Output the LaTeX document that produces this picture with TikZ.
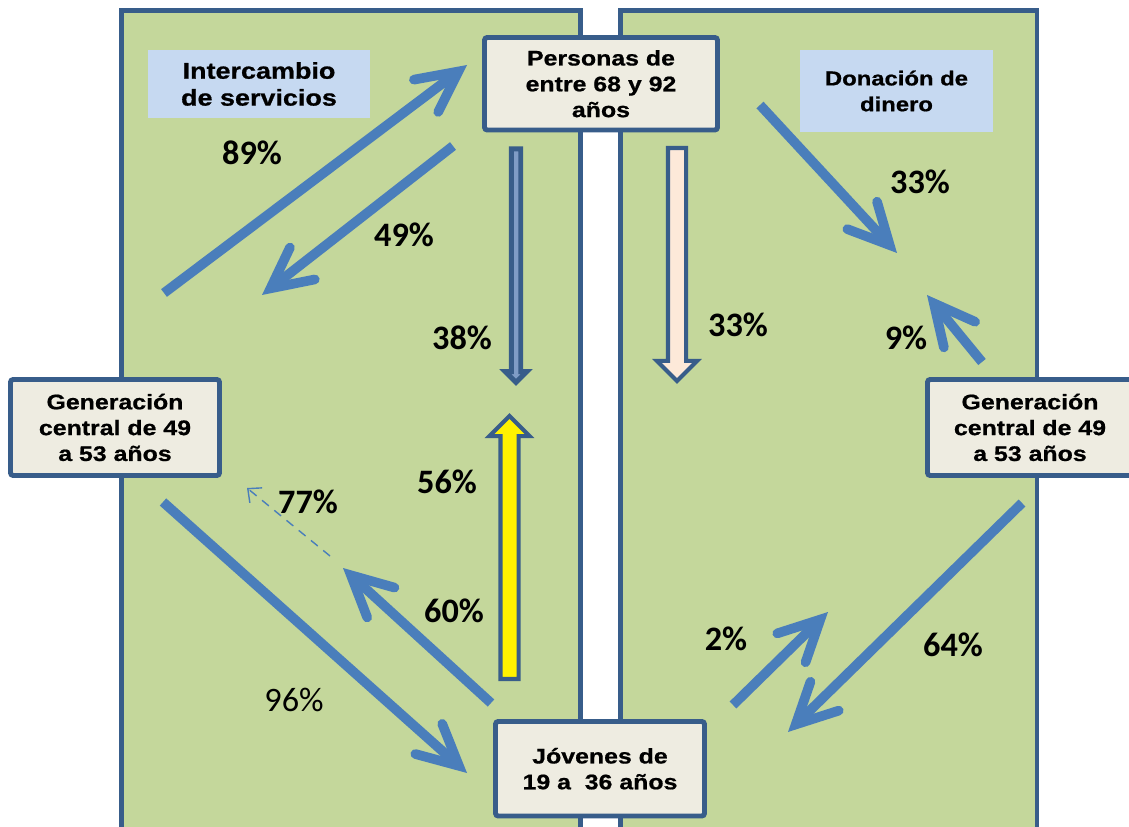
\documentclass[tikz,border=0pt]{standalone}
\usepackage{fontspec}
\setmainfont{Liberation Sans}
\newfontfamily\cajafont{Liberation Sans}[FakeStretch=1.18, FakeBold=0.8]
\newfontfamily\pctfont{Carlito}
\usetikzlibrary{arrows.meta,shapes.arrows}
\definecolor{verde}{HTML}{C4D79B}
\definecolor{borde}{HTML}{385D8A}
\definecolor{crema}{HTML}{EEECE1}
\definecolor{celeste}{HTML}{C6D9F1}
\definecolor{azul}{HTML}{4A7EBB}
\definecolor{rosa}{HTML}{FDE9D9}
\definecolor{azulclaro}{HTML}{7F9CC6}
\begin{document}
\begin{tikzpicture}[x=0.02cm, y=-0.02cm,
    panel/.style={draw=borde, fill=verde, line width=2.8pt},
    caja/.style={draw=borde, fill=crema, line width=2.8pt, rounded corners=1.5pt,
      align=center, inner sep=0pt, font=\cajafont\bfseries\fontsize{12}{14.7}\selectfont},
    etiqueta/.style={fill=celeste, align=center, inner sep=0pt},
    pct/.style={font=\pctfont\bfseries\fontsize{19.5}{22}\selectfont, inner sep=0pt},
    flecha/.style={draw=azul, line width=5.5pt,
      -{Straight Barb[length=23pt, width=23pt, line cap=round, line join=miter]}},
    punteada/.style={draw=azul, line width=0.8pt, dash pattern=on 5pt off 4pt,
      -{Straight Barb[length=6pt, width=11pt]}},
    bloque/.style={single arrow, draw=borde, line width=2.3pt, inner xsep=0pt,
      inner ysep=0.14cm, single arrow head extend=0.22cm, minimum width=0.72cm,
      anchor=tail}]
  \useasboundingbox (0,0) rectangle (1129,827);
  \clip (0,0) rectangle (1129,827);

  % Panels
  \draw[panel] (121.5,10.5) rectangle (580.5,860);
  \draw[panel] (620.5,10.5) rectangle (1037,860);
  \node[etiqueta, minimum width=4.44cm, minimum height=1.36cm,
    font=\cajafont\bfseries\fontsize{13}{15.3}\selectfont] (servicios) at (259,84)
    {Intercambio\\de servicios};
  \node[etiqueta, minimum width=3.86cm, minimum height=1.64cm,
    font=\cajafont\bfseries\fontsize{11.5}{14.7}\selectfont] (dinero) at (896.5,91)
    {Donación de\\dinero};

  % Arrow ends
  \coordinate (t89) at (164,293);   \coordinate (p89) at (467,65);
  \coordinate (t49) at (453,146);   \coordinate (p49) at (262,295);
  \coordinate (t96) at (163,502);   \coordinate (p96) at (467,773);
  \coordinate (t60) at (491,703);   \coordinate (p60) at (343,568);
  \coordinate (t77) at (330,556);   \coordinate (p77) at (247,488);
  \coordinate (t33) at (760,105);   \coordinate (p33) at (897,253);
  \coordinate (t9) at (982,362);    \coordinate (p9) at (927,295);
  \coordinate (t2) at (733,705);    \coordinate (p2) at (828,612);
  \coordinate (t64) at (1022,503);  \coordinate (p64) at (788,732);

  % Arrows
  \draw[flecha] (t89) -- (p89);
  \draw[flecha] (t49) -- (p49);
  \draw[flecha] (t96) -- (p96);
  \draw[flecha] (t60) -- (p60);
  \draw[punteada] (t77) -- (p77);
  \draw[flecha] (t33) -- (p33);
  \draw[flecha] (t9) -- (p9);
  \draw[flecha] (t2) -- (p2);
  \draw[flecha] (t64) -- (p64);
  \node[bloque, fill=azulclaro, line width=2.8pt, inner ysep=0.045cm,
    single arrow head extend=0.12cm, minimum width=0.33cm,
    minimum height=4.67cm, rotate=-90] (b38) at (516,146.5) {};
  \node[bloque, fill=rosa, minimum height=4.66cm, rotate=-90] (b33) at (677,146) {};
  \node[bloque, fill=yellow, minimum height=5.26cm, rotate=90] (b56) at (509.5,681) {};

  % Boxes
  \node[caja, minimum width=4.66cm, minimum height=1.85cm] (mayores) at (601,83.75)
    {Personas de\\entre 68 y 92\\años};
  \node[caja, minimum width=4.18cm, minimum height=1.92cm] (centralL) at (115,427.5)
    {Generación\\central de 49\\a 53 años};
  \node[caja, minimum width=4.10cm, minimum height=1.92cm] (centralR) at (1030,427.5)
    {Generación\\central de 49\\a 53 años};
  \node[caja, minimum width=4.18cm, minimum height=1.89cm] (jovenes) at (600,768.75)
    {Jóvenes de\\19 a\ \ 36 años};

  % Percentages
  \node[pct] (n89) at (252,153) {89\%};
  \node[pct] (n49) at (404,235) {49\%};
  \node[pct] (n38) at (462,338) {38\%};
  \node[pct] (n33a) at (738,325) {33\%};
  \node[pct] (n33b) at (920,182) {33\%};
  \node[pct] (n9) at (906,338) {9\%};
  \node[pct] (n56) at (447,482) {56\%};
  \node[pct] (n77) at (308,502) {77\%};
  \node[pct] (n60) at (454,611) {60\%};
  \node[pct, font=\pctfont\fontsize{19.5}{22}\selectfont] (n96) at (294,700) {96\%};
  \node[pct] (n2) at (726,639) {2\%};
  \node[pct] (n64) at (953,645) {64\%};
\end{tikzpicture}
\end{document}
